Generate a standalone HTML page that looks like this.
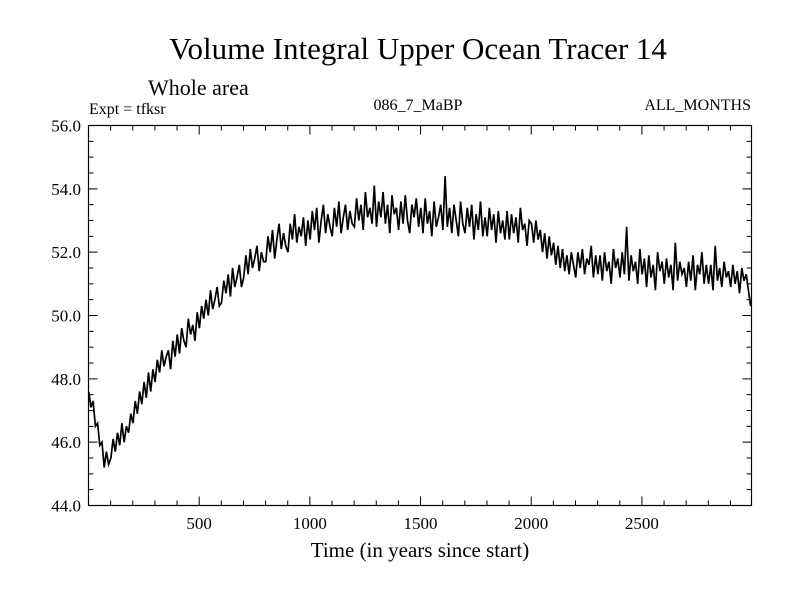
<!DOCTYPE html>
<html><head><meta charset="utf-8"><style>
html,body{margin:0;padding:0;background:#fff}
svg{display:block;font-family:"Liberation Serif",serif}
</style></head><body>
<svg id="chart" width="800" height="600" viewBox="0 0 800 600">
<rect width="800" height="600" fill="#fff"/>
<text x="418" y="59" font-size="31" text-anchor="middle">Volume Integral Upper Ocean Tracer 14</text>
<text x="148" y="95" font-size="22">Whole area</text>
<text x="89" y="114" font-size="16">Expt = tfksr</text>
<text x="418" y="110" font-size="16" text-anchor="middle">086_7_MaBP</text>
<text x="751" y="110" font-size="16" text-anchor="end">ALL_MONTHS</text>
<text x="420" y="557" font-size="21" text-anchor="middle">Time (in years since start)</text>
<g id="axes"></g>
<g id="series"></g>
</svg>
<script>
const yTicks=[44,46,48,50,52,54,56];
const yTickLabels=["44.0","46.0","48.0","50.0","52.0","54.0","56.0"];
const xTicks=[500,1000,1500,2000,2500];
const xTickLabels=["500","1000","1500","2000","2500"];
const yearStep=10;
const values=[
47.6,47.1,47.3,46.5,46.6,45.9,46.0,45.2,45.7,45.3,
45.5,46.1,45.7,46.3,45.9,46.6,46.0,46.5,46.3,46.9,
46.6,47.3,46.9,47.6,47.2,47.9,47.4,48.2,47.6,48.3,
47.9,48.6,48.2,48.9,48.4,48.7,48.9,48.3,49.2,48.7,
49.4,48.8,49.6,49.2,49.0,49.9,49.4,49.7,49.2,50.1,
49.6,50.3,49.9,50.5,50.0,50.8,50.2,50.5,50.9,50.3,
50.4,51.1,50.7,51.3,50.6,51.5,50.9,51.2,51.6,50.9,
51.2,51.9,51.3,52.1,51.5,51.8,52.2,51.4,52.0,51.7,
51.7,52.5,52.0,52.7,51.8,52.4,52.9,52.1,52.6,52.2,
52.0,52.9,52.4,53.2,52.3,52.8,52.5,53.1,52.2,53.0,
52.4,53.3,52.7,53.4,52.3,53.0,53.5,52.6,53.2,52.8,
52.5,53.4,52.8,53.6,52.6,53.1,53.5,52.7,53.3,52.9,
52.8,53.7,53.0,53.5,52.7,53.9,53.1,53.4,52.9,54.1,
52.8,53.6,53.1,53.9,52.9,53.5,52.6,53.8,53.2,53.4,
52.7,53.6,52.9,53.8,53.0,52.6,53.5,53.1,53.7,52.8,
53.4,52.6,53.7,52.9,53.3,52.5,53.6,52.8,53.1,53.5,
52.7,54.4,52.8,53.4,52.6,53.5,53.0,52.5,53.6,52.9,
52.6,53.4,52.8,53.5,52.4,53.2,52.7,53.6,52.5,53.1,
52.5,53.4,52.7,53.2,52.3,53.3,52.6,53.0,52.4,53.3,
52.4,53.2,52.6,53.1,52.3,53.4,52.7,52.9,52.2,53.0,
52.9,52.3,53.0,52.4,52.7,52.0,52.6,51.8,52.5,51.9,
52.3,51.6,52.2,51.5,52.1,51.4,51.9,51.3,52.0,51.6,
51.2,52.0,51.5,52.1,51.3,51.8,51.6,52.2,51.2,51.9,
51.3,51.9,51.1,52.0,51.4,51.7,51.0,52.1,51.5,51.8,
51.2,52.0,51.3,52.8,51.1,51.9,51.4,51.7,51.0,52.1,
51.3,51.8,50.9,51.9,51.2,51.6,50.8,52.0,51.4,51.7,
51.0,51.8,51.2,51.6,50.8,52.3,51.1,51.7,51.3,51.5,
50.9,51.7,51.1,51.9,50.8,51.6,51.3,52.0,51.0,51.6,
51.0,51.6,50.8,52.2,51.1,51.5,50.9,51.7,51.2,51.4,
50.9,51.6,51.0,51.4,50.7,51.5,51.1,51.3,50.8,50.3];
const years=values.map((v,i)=>1+i*yearStep);

const L=88.5,R=751.5,T=125.5,B=505.5,X0=0,X1=2995,Y0=44,Y1=56;
const sx=v=>L+(v-X0)/(X1-X0)*(R-L);
const sy=v=>B-(v-Y0)/(Y1-Y0)*(B-T);
const NS="http://www.w3.org/2000/svg";
const axes=document.getElementById('axes');
function mk(tag,attrs,parent){const e=document.createElementNS(NS,tag);for(const k in attrs)e.setAttribute(k,attrs[k]);parent.appendChild(e);return e;}
const frame=mk('rect',{x:L,y:T,width:R-L,height:B-T,fill:'none',stroke:'#000','stroke-width':1.2},axes);


let d='';
for(let v=100;v<X1;v+=100){const x=sx(v);const len=(v%500===0)?9:5;d+=`M${x} ${B}v${-len}M${x} ${T}v${len}`;}
for(let v=Y0+0.5;v<Y1;v+=0.5){const y=sy(v);const len=(Math.abs(v%2)<1e-6)?9:5;d+=`M${L} ${y}h${len}M${R} ${y}h${-len}`;}
const ticks=mk('path',{d:d,stroke:'#000','stroke-width':1,fill:'none'},axes);


yTicks.forEach((v,i)=>{const t=mk('text',{x:81,y:sy(v)+6,'font-size':17,'text-anchor':'end'},axes);t.textContent=yTickLabels[i];

});
xTicks.forEach((v,i)=>{const t=mk('text',{x:sx(v),y:529,'font-size':17,'text-anchor':'middle'},axes);t.textContent=xTickLabels[i];

});
const pts=values.map((v,i)=>`${sx(years[i]).toFixed(1)},${sy(v).toFixed(1)}`).join(' ');
const line=mk('polyline',{points:pts,fill:'none',stroke:'#000','stroke-width':1.7,'stroke-linejoin':'miter'},document.getElementById('series'));


</script>
</body></html>
